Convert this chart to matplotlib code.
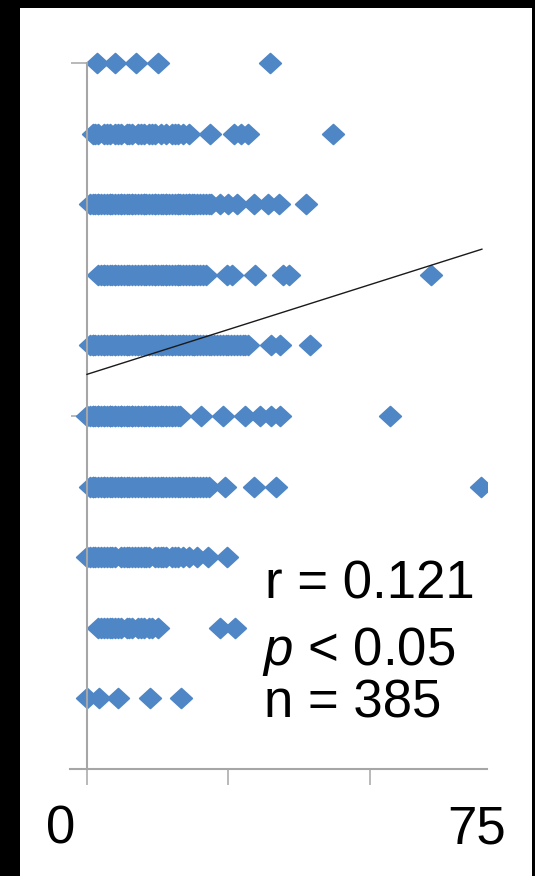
import matplotlib
matplotlib.use("Agg")
import matplotlib.pyplot as plt
from matplotlib.path import Path
from matplotlib.patches import Rectangle

plt.rcParams['font.family'] = ['Liberation Sans', 'DejaVu Sans']
plt.rcParams['mathtext.fontset'] = 'custom'
plt.rcParams['mathtext.it'] = 'Liberation Sans:italic'
plt.rcParams['mathtext.rm'] = 'Liberation Sans'

# ---------------- data (x values per y level) ----------------
levels = [1, 2, 3, 4, 5, 6, 7, 8, 9, 10]

x_lvl1 = [0, 2.1, 5.4, 11.1, 16.6]
x_lvl2 = [2, 2.5, 3, 3.5, 4, 4.5, 5, 5.5, 6, 7, 7.5, 8, 9, 9.5, 10, 11, 11.5, 12.5,
          23.5, 26.1]
x_lvl3 = [0, 0.5, 1, 1.5, 2, 2.5, 3, 3.5, 4, 4.5, 5, 6, 6.5, 7, 7.5, 8, 8.5, 9, 9.5,
          10, 10.5, 11, 12, 12.5, 13, 13.5, 14, 15, 15.5, 16, 17, 18, 19.5, 21.4, 24.7]
x_lvl4 = [0.5, 1, 1.5, 2, 2.5, 3, 3.5, 4, 4.5, 5, 5.5, 6, 6.5, 7, 7.5, 8, 8.5, 9, 9.5,
          10, 10.5, 11, 11.5, 12, 12.5, 13, 13.5, 14, 14.5, 15, 15.5, 16, 16.5, 17,
          17.5, 18, 18.5, 19, 19.5, 20, 20.5, 21, 21.5, 1, 3, 6,
          24.4, 29.5, 33.4, 69.6]
x_lvl5 = [0, 0.5, 1, 1.5, 2, 2.5, 3, 3.5, 4, 4.5, 5, 5.5, 6, 6.5, 7, 7.5, 8, 8.5, 9,
          9.5, 10, 10.5, 11, 11.5, 12, 12.5, 13, 13.5, 14, 14.5, 15, 15.5, 16, 16.4,
          1, 2, 3, 4, 5, 6, 7, 8, 9, 10, 11, 12, 13, 14, 15, 2, 4, 6, 8,
          20.2, 24.1, 28.0, 30.5, 32.5, 34.2, 53.5]
x_lvl6 = [0.5, 1, 1.5, 2, 2.5, 3, 3.5, 4, 4.5, 5, 5.5, 6, 6.5, 7, 7.5, 8, 8.5, 9, 9.5,
          10, 10.5, 11, 11.5, 12, 12.5, 13, 13.5, 14, 14.5, 15, 15.5, 16, 16.5, 17,
          17.5, 18, 18.5, 19, 19.5, 20, 20.5, 21, 21.5, 22, 22.5, 23, 23.5, 24, 24.5,
          25, 25.5, 26, 26.5, 27, 27.5, 28, 28.5,
          1, 3, 5, 7, 9, 11, 13, 15, 17, 19,
          32.5, 34.1, 39.4]
x_lvl7 = [2, 2.5, 3, 3.5, 4, 4.5, 5, 5.5, 6, 6.5, 7, 7.5, 8, 8.5, 9, 9.5, 10, 10.5, 11,
          11.5, 12, 12.5, 13, 13.5, 14, 14.5, 15, 15.5, 16, 16.5, 17, 17.5, 18, 18.5,
          19, 19.5, 20, 20.5, 21, 3, 5, 12, 14, 16,
          24.7, 25.6, 29.7, 34.6, 35.7, 60.8]
x_lvl8 = [0.5, 1, 1.5, 2, 2.5, 3, 3.5, 4, 4.5, 5, 5.5, 6, 6.5, 7, 7.5, 8, 8.5, 9, 9.5,
          10, 10.5, 11, 11.5, 12, 12.5, 13, 13.5, 14, 14.5, 15, 15.5, 16, 16.5, 17,
          17.5, 18, 18.5, 19, 19.5, 20, 20.5, 21, 21.5, 22,
          2, 4, 6, 8, 10, 12, 14, 16, 18,
          23.5, 25, 26.5, 29.5, 32, 33.9, 38.7]
x_lvl9 = [1, 1.5, 2, 3, 3.5, 4, 5, 5.5, 6, 7, 7.5, 8, 9, 9.5, 10, 11, 11.5, 12, 13,
          14, 15, 15.5, 16, 17, 18,
          21.7, 26.0, 27.3, 28.5, 43.5]
x_lvl10 = [1.7, 5.0, 8.7, 12.5, 32.4]

x_by_level = [x_lvl1, x_lvl2, x_lvl3, x_lvl4, x_lvl5,
              x_lvl6, x_lvl7, x_lvl8, x_lvl9, x_lvl10]

trend_intercept = 5.59
trend_slope = 0.0254
trend_x_end = 69.8

x_tick_values = [0, 25, 50]
y_tick_values = [5, 10]
x_end_labels = ["0", "75"]
stats_labels = ["r = 0.121", "$p$ < 0.05", "n = 385"]

# ---------------- figure ----------------
W, H = 535, 876
fig = plt.figure(figsize=(W / 100, H / 100), dpi=100, facecolor='black')
fig.patches.append(Rectangle((20 / W, 0), (532 - 20) / W, (H - 8) / H,
                             transform=fig.transFigure, facecolor='white',
                             edgecolor='none', zorder=-10))

ax = fig.add_axes([70 / W, (H - 769) / H, (487 - 70) / W, (769 - 27.7) / H])
ax.set_facecolor('none')
ax.set_xlim(-3.0, 70.7)
ax.set_ylim(0, 10.5)

diamond = Path([(-1, 0), (0, 0.92), (1, 0), (0, -0.92), (-1, 0)],
               [Path.MOVETO, Path.LINETO, Path.LINETO, Path.LINETO, Path.CLOSEPOLY])

marker_color = '#4F86C6'
for lvl, xs in zip(levels, x_by_level):
    ax.scatter(xs, [lvl] * len(xs), marker=diamond, s=240, color=marker_color,
               edgecolors=marker_color, linewidths=1.3, zorder=2)

ax.plot([0, trend_x_end],
        [trend_intercept, trend_intercept + trend_slope * trend_x_end],
        color='#1a1a1a', lw=1.0, zorder=3)

grey = '#A6A6A6'
for s in ('top', 'right'):
    ax.spines[s].set_visible(False)
ax.spines['left'].set_position(('data', 0))
ax.spines['left'].set_bounds(0, 10)
for s in ('left', 'bottom'):
    ax.spines[s].set_color(grey)
    ax.spines[s].set_linewidth(1.5)

ax.set_xticks(x_tick_values)
ax.set_yticks(y_tick_values)
ax.tick_params(direction='out', length=11.5, width=1.1, color=grey,
               labelbottom=False, labelleft=False)

# stats annotation
stats_baselines = [598.6, 665, 718]
stats_left = [265, 262, 264.5]
for txt, yb, xl in zip(stats_labels, stats_baselines, stats_left):
    fig.text(xl / W, 1 - yb / H, txt, fontsize=38, ha='left', va='baseline',
             color='black')

# axis end labels
for txt, xc in zip(x_end_labels, [61, 476.5]):
    fig.text(xc / W, 1 - 843 / H, txt, fontsize=38, ha='center', va='baseline',
             color='black')

fig.savefig('out.png', dpi=100, facecolor='black')
